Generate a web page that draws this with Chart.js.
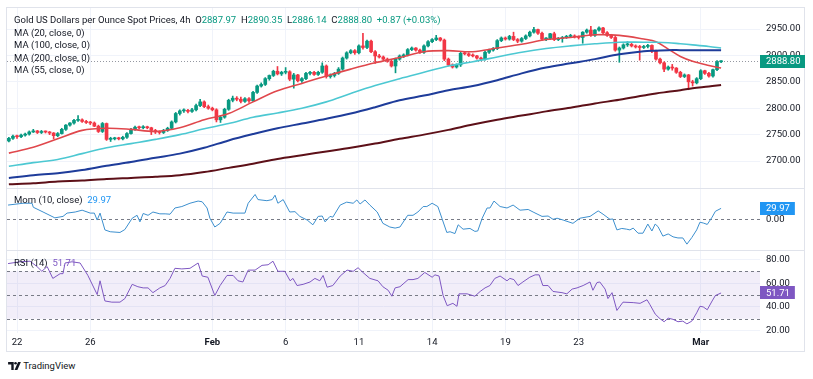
<!DOCTYPE html>
<html><head><meta charset="utf-8">
<script src="https://cdn.jsdelivr.net/npm/chart.js@4.4.1/dist/chart.umd.min.js"></script>
<style>
html,body{margin:0;padding:0;background:#fff;width:813px;height:379px;overflow:hidden;font-family:Roboto,"Noto Sans",sans-serif;}
#frame{position:absolute;left:6px;top:7px;width:799px;height:345px;border:1px solid #e0e3eb;box-sizing:border-box;}
canvas{position:absolute;}
.sep{position:absolute;left:6px;width:799px;height:1px;background:#e0e3eb;}
.lg{position:absolute;left:14px;font-size:9.5px;color:#131722;white-space:pre;line-height:12px;z-index:5;}
#logo{position:absolute;left:8px;top:360px;font-size:9.5px;color:#131722;line-height:11px;}
</style></head><body>
<div id="frame"></div>
<canvas id="cMain" width="798" height="180" style="left:7px;top:8px"></canvas>
<div class="sep" style="top:188px"></div>
<canvas id="cMom" width="798" height="61" style="left:7px;top:189px"></canvas>
<div class="sep" style="top:250px"></div>
<canvas id="cRsi" width="798" height="101" style="left:7px;top:251px"></canvas>
<div class="lg" id="l0" style="top:14px"></div>
<div class="lg" id="l1" style="top:26.6px"></div>
<div class="lg" id="l2" style="top:39.2px"></div>
<div class="lg" id="l3" style="top:51.8px"></div>
<div class="lg" id="l4" style="top:64.4px"></div>
<div class="lg" id="lMom" style="top:194px"></div>
<div class="lg" id="lRsi" style="top:257px"></div>
<div id="logo"><svg width="13" height="8" viewBox="0 0 16 10" style="vertical-align:-1px"><path d="M0 0H7V10H4V3H0Z" fill="#131722"/><circle cx="9.3" cy="1.6" r="1.6" fill="#131722"/><path d="M12.5 0H16L11.6 10H8.1Z" fill="#131722"/></svg> TradingView</div>
<script>
// ---------------- DATA ----------------
const title = "Gold US Dollars per Ounce Spot Prices, 4h";
const FIRST_IDX = -2; // bar index of the first candle (bar 0 = Jan 22)
const opens = [
2738,2743,2747,2746,2749,2751,2755,2757,2754,2756,
2755,2753,2748,2752,2760,2768,2772,2777,2778,2775,
2773,2772,2766,2756,2771,2741,2742,2743,2742,2745,
2752,2760,2764,2763,2764,2763,2758,2755,2754,2758,
2762,2774,2790,2795,2796,2794,2797,2805,2812,2803,
2800,2797,2778,2783,2798,2815,2819,2817,2813,2818,
2814,2830,2842,2845,2856,2862,2870,2865,2868,2869,
2855,2863,2852,2856,2866,2868,2864,2868,2880,2860,
2862,2866,2874,2895,2905,2909,2905,2918,2915,2927,
2907,2899,2897,2893,2889,2880,2893,2899,2901,2911,
2914,2910,2906,2918,2926,2930,2933,2929,2893,2882,
2878,2882,2904,2903,2900,2899,2895,2893,2906,2910,
2913,2928,2933,2931,2936,2930,2927,2932,2937,2944,
2949,2942,2931,2932,2941,2930,2932,2934,2936,2937,
2935,2934,2944,2948,2938,2948,2952,2943,2938,2934,
2910,2914,2920,2921,2918,2916,2915,2917,2919,2908,
2893,2886,2874,2878,2876,2868,2860,2863,2850,2848,
2856,2871,2866,2861,2873,2887.97];
const highs = [
2745,2749,2749,2751,2753,2757,2760,2758,2758,2757,
2756,2754,2754,2762,2769,2773,2779,2786,2780,2777,
2775,2774,2768,2773,2772,2745,2745,2745,2747,2754,
2762,2766,2766,2767,2766,2764,2760,2757,2760,2764,
2776,2792,2797,2799,2798,2800,2808,2817,2814,2806,
2802,2799,2786,2800,2817,2823,2822,2821,2820,2820,
2832,2844,2848,2858,2863,2872,2879,2870,2877,2871,
2866,2864,2858,2868,2870,2870,2870,2886,2882,2865,
2868,2877,2897,2907,2911,2911,2920,2942,2929,2929,
2909,2902,2899,2895,2891,2895,2901,2903,2913,2916,
2915,2912,2920,2928,2932,2938,2934,2931,2895,2884,
2884,2906,2907,2905,2903,2900,2897,2908,2912,2915,
2930,2935,2935,2938,2944,2932,2934,2939,2946,2953,
2950,2944,2934,2942,2944,2934,2936,2938,2940,2939,
2937,2945,2950,2955,2949,2954,2953,2945,2940,2936,
2916,2922,2926,2923,2920,2919,2919,2921,2920,2910,
2895,2888,2880,2883,2877,2870,2865,2864,2853,2858,
2873,2872,2868,2874,2890,2890.35];
const lows = [
2736,2741,2743,2744,2747,2749,2754,2752,2752,2753,
2750,2742,2746,2751,2758,2766,2770,2775,2773,2771,
2769,2765,2754,2754,2739,2737,2740,2740,2740,2743,
2751,2758,2761,2761,2761,2750,2752,2751,2752,2756,
2760,2772,2787,2792,2791,2792,2795,2803,2801,2798,
2795,2774,2773,2781,2796,2812,2814,2810,2811,2811,
2813,2828,2840,2843,2853,2860,2863,2862,2865,2852,
2838,2850,2849,2854,2863,2862,2862,2866,2857,2857,
2859,2864,2872,2893,2903,2902,2903,2912,2913,2905,
2885,2895,2891,2887,2878,2867,2891,2896,2899,2909,
2908,2904,2904,2916,2924,2928,2927,2890,2880,2876,
2876,2879,2901,2898,2897,2893,2890,2891,2904,2908,
2911,2926,2929,2929,2928,2924,2925,2930,2935,2942,
2940,2929,2928,2930,2928,2928,2925,2932,2934,2933,
2931,2923,2942,2936,2936,2946,2941,2936,2932,2908,
2887,2912,2917,2916,2914,2891,2913,2914,2905,2891,
2884,2869,2872,2872,2866,2858,2858,2835,2842,2846,
2854,2864,2859,2859,2871,2886.14];
const closes = [
2743,2747,2746,2749,2751,2755,2757,2754,2756,2755,
2753,2748,2752,2760,2768,2772,2777,2778,2775,2773,
2772,2766,2756,2771,2741,2742,2743,2742,2745,2752,
2760,2764,2763,2764,2763,2758,2755,2754,2758,2762,
2774,2790,2795,2796,2794,2797,2805,2812,2803,2800,
2797,2778,2783,2798,2815,2819,2817,2813,2818,2814,
2830,2842,2845,2856,2862,2870,2865,2868,2869,2855,
2863,2852,2856,2866,2868,2864,2868,2880,2860,2862,
2866,2874,2895,2905,2909,2905,2918,2915,2927,2907,
2899,2897,2893,2889,2880,2893,2899,2901,2911,2914,
2910,2906,2918,2926,2930,2933,2929,2893,2882,2878,
2882,2904,2903,2900,2899,2895,2893,2906,2910,2913,
2928,2933,2931,2936,2930,2927,2932,2937,2944,2949,
2942,2931,2932,2941,2930,2932,2934,2936,2937,2935,
2934,2944,2948,2938,2948,2952,2943,2938,2934,2910,
2914,2920,2921,2918,2916,2915,2917,2919,2908,2893,
2886,2874,2878,2876,2868,2860,2863,2850,2848,2856,
2871,2866,2861,2873,2887.93,2888.80];

// moving averages, sampled at these bar indices
const maIdx = [-2,4,10,16,22,28,34,40,46,52,58,64,70,76,82,88,94,100,106,112,118,124,130,136,142,148,154,157,160,163,166,170,173];
const ma20  = [2715,2726,2742,2758,2762,2760,2756,2763,2778,2790,2812,2833,2847,2861,2874,2886,2896,2907,2909,2907,2914,2921,2930,2934,2939,2938,2931,2926,2912,2898,2889,2881,2876];
const ma55  = [2690,2697,2703,2714,2725,2733,2741,2750,2761,2771,2783,2791,2800,2812,2828,2843,2856,2868,2880,2888,2897,2906,2913,2918,2922,2925,2925,2925,2924,2922,2920,2917,2914];
const ma100 = [2668,2673,2677,2683,2691,2698,2706,2714,2725,2739,2751,2762,2771,2780,2790,2802,2815,2824,2834,2842,2853,2866,2877,2885,2893,2902,2908,2909,2910,2910,2910,2910,2910];
const ma200 = [2656,2658,2661,2663,2666,2668,2670,2673,2679,2687,2695,2704,2711,2718,2725,2733,2742,2750,2759,2769,2778,2786,2794,2801,2809,2816,2824,2828,2831,2834,2838,2841,2844];

// momentum (10)
const momIdx = [-2.2,1.5,3.7,4,6.4,9.3,11.3,12.3,14.3,16,18,19,19.7,20.4,21.6,22.9,25.3,26.5,28.3,29.5,30.2,31,32.2,33.4,35.1,36.4,37.6,38.8,40.5,42.5,44.5,45.5,46.7,47.4,48.6,49.9,51.6,53.1,54.8,56,56.8,58.5,59.2,61.4,62.7,63.4,64.1,65.4,67,68.3,69.5,71.3,72.7,74,75,75.7,76.9,77.6,79.4,81,82.6,83.5,84.3,85.5,86.7,88.5,89.9,91.6,92.9,94.1,96,97.3,98.5,99.8,100.7,102,103.4,104.4,105.6,106.4,107.6,108.4,109.6,111.3,112.5,113.2,114.3,115.5,116.2,117.2,118.7,120.4,121.9,123.6,125.6,126.8,129,130.5,131.7,132.7,134.2,136.6,138.3,140.8,142.8,144,145.7,146.4,147.4,148.6,149.8,150.6,151.4,152.6,153.8,155,156,156.8,157.5,158.7,160,161.2,162.4,163.6,164.6,165.8,167,167.8,168.6,169.6,170.8,171.6,173];
const mom = [39,44,44,33,20,4,8,17,20,25,17,17,-2,17,-29,-34,-36,-28,3,11,-7,16,11,20,15,15,14,31,35,44,50,48,31,3,-21,-11,20,17,17,17,44,68,54,51,54,66,44,54,20,21,8,-2,-15,8,9,-7,8,6,39,47,44,53,42,53,39,20,-11,-21,-24,-21,11,11,20,35,35,44,35,3,-36,-34,-39,-15,-27,-25,-33,-32,3,31,31,50,35,31,39,25,27,20,8,9,0,3,-2,-11,3,8,23,14,0,1,-29,-25,-27,-29,-24,-38,-38,-13,-32,-13,-20,-46,-40,-48,-51,-51,-68,-50,-29,-8,-10,-14,6,22,29.97];

// RSI (14)
const rsiIdx = [-2.2,0.7,3.2,4.9,6.1,7.4,8.8,10.6,11.3,11.8,13.5,15.5,17.4,19.7,20.4,21.6,23.3,25.3,26.5,28.3,29.7,31,32.2,33.4,35.1,36.4,37.6,38.8,40.5,42.5,44.5,45.5,46.9,48.6,49.9,51.6,53.1,54.3,55.5,56.8,58.5,60.2,61.7,62.9,64.1,65.8,67.1,67.8,68.8,70.3,72,73.2,74.4,75.2,76.2,77.6,79.4,81.1,82.6,83.8,85,86.7,88.7,89.9,91.2,92.1,92.9,94.1,96.1,97.3,98.5,100.2,102,102.7,103.7,104.7,105.7,107.1,108.1,108.6,110.6,112.5,113.8,115,116.2,117.4,118.7,120.4,121.1,122.1,123.1,124.3,126,127.3,128.3,129.2,130.5,131.7,133.9,135.1,136.4,137.6,139.1,140.8,141.5,142.5,143.2,144.5,145.2,146.2,147.4,148.9,151.4,153.1,154.8,155.5,156.8,158,159,160,161.2,162.4,163.6,164.6,165.8,167,167.8,168.6,169.6,170.8,171.6,173];
const rsi = [76.5,78,78.5,74,70,74,64,68,68,77,78,77,66.6,50.4,62,45,44,44,47,59,57,56,56,52,56,58,64,72.5,72,72.5,77,66,65,49.6,58,66.5,66.5,62,61,71,71,75,75.5,78.5,70,70,62,64,58,59,61,64,62,66.5,56.6,58,66,71,70,73,69,64,62,57,54,49,56,57,63,63,64,69,65,67,66,49.6,41,43,40.5,51,51,49,53,56,58,64,66,62,64,63,58,61,65,67,67,58,58,53,52,51,55,56,58,61,54,60.5,61,55,47,52,37,44,43.6,43,46,42,34,30,27.5,30.5,29.5,27.5,28,25.7,28,35,40.5,40,37.6,45,49.6,51.71];

// axis ticks
const dateTickIdx = [0,18,48,66,84,102,120,138,168];
const dateTickLbl = ["22","26","Feb","6","11","14","19","23","Mar"];
const dateTickBold = [false,false,true,false,false,false,false,false,true];
const priceTicks = [2700,2750,2800,2850,2900,2950];
const momTicks = [0];
const rsiTicks = [20,40,60,80];
const rsiLevels = [70,50,30];

// ---------------- STYLE / LAYOUT ----------------
const UP = '#089981', DOWN = '#f23645';
const X_MIN = -2.46, X_MAX = 182.56;
const FONT = 'Roboto, "Noto Sans", sans-serif';
Chart.defaults.font.family = FONT;
Chart.defaults.font.size = 9.5;
Chart.defaults.color = '#131722';

const extras = {
  id: 'extras',
  beforeDatasetsDraw(chart, args, o) {
    const {ctx, chartArea: a} = chart; const y = chart.scales.y;
    if (o.band) {
      const y1 = y.getPixelForValue(o.band[1]), y2 = y.getPixelForValue(o.band[0]);
      ctx.save(); ctx.fillStyle = o.band[2]; ctx.fillRect(a.left, y1, a.right - a.left, y2 - y1); ctx.restore();
    }
    (o.hlines || []).forEach(h => {
      const py = Math.round(y.getPixelForValue(h.v)) + 0.5;
      ctx.save(); ctx.strokeStyle = h.color; ctx.lineWidth = 1; ctx.setLineDash(h.dash);
      ctx.beginPath(); ctx.moveTo(a.left, py); ctx.lineTo(a.right, py); ctx.stroke(); ctx.restore();
    });
  },
  afterDraw(chart, args, o) {
    if (!o.badge) return;
    const {ctx, chartArea: a} = chart; const y = chart.scales.y;
    const py = y.getPixelForValue(o.badge.v);
    ctx.save(); ctx.font = '9.5px ' + FONT;
    const w = ctx.measureText(o.badge.text).width + 11;
    ctx.fillStyle = o.badge.bg; ctx.fillRect(a.right, Math.round(py - 6.5), w, 13);
    ctx.fillStyle = '#fff'; ctx.textBaseline = 'middle'; ctx.textAlign = 'left';
    ctx.fillText(o.badge.text, a.right + 6, py + 0.5); ctx.restore();
  }
};
Chart.register(extras);

function xScale(show) {
  return {
    type: 'linear', min: X_MIN, max: X_MAX, offset: false,
    afterBuildTicks: s => { s.ticks = dateTickIdx.map(v => ({value: v})); },
    ticks: {display: show, autoSkip: false, maxRotation: 0, padding: 4, color: '#131722',
      font: c => ({family: FONT, size: 9.5, weight: dateTickBold[c.index] ? 'bold' : 'normal'}),
      callback: (v, i) => dateTickLbl[i]},
    grid: {color: '#f0f3fa', drawTicks: false, offset: false},
    border: {display: false},
    afterFit: s => { s.paddingLeft = 0; s.paddingRight = 0; s.height = show ? 19 : 0; }
  };
}
function yScale(min, max, tk, grid) {
  return {
    position: 'right', min: min, max: max,
    afterBuildTicks: s => { s.ticks = tk.map(v => ({value: v})); },
    ticks: {padding: 6, color: '#131722', font: {family: FONT, size: 9.5}, callback: v => Number(v).toFixed(2)},
    grid: {color: '#f0f3fa', drawTicks: false, display: grid},
    border: {display: false},
    afterFit: s => { s.width = 45; s.paddingTop = 0; s.paddingBottom = 0; }
  };
}
const baseOpts = {responsive: false, devicePixelRatio: 1, animation: false, layout: {padding: 0}};
const lineDs = (xs, ys, color, w, t) => ({type: 'line', data: xs.map((x, k) => ({x: x, y: ys[k]})),
  borderColor: color, borderWidth: w, pointRadius: 0, tension: t, fill: false});

const N = closes.length, last = N - 1;
const candleCol = c => closes[c.dataIndex] >= opens[c.dataIndex] ? UP : DOWN;

new Chart(document.getElementById('cMain'), {
  type: 'bar',
  data: {datasets: [
    Object.assign(lineDs(maIdx, ma200, '#5d1018', 2, 0.35), {order: 1}),
    Object.assign(lineDs(maIdx, ma100, '#1e3c9a', 2, 0.35), {order: 1}),
    Object.assign(lineDs(maIdx, ma55, '#4cc8d2', 1.6, 0.35), {order: 1}),
    Object.assign(lineDs(maIdx, ma20, '#e0474c', 1.6, 0.35), {order: 1}),
    {type: 'bar', order: 3, grouped: false, barThickness: 1, backgroundColor: candleCol,
      data: lows.map((l, k) => ({x: k + FIRST_IDX, y: [l, highs[k]]}))},
    {type: 'bar', order: 2, grouped: false, barThickness: 3, minBarLength: 1, backgroundColor: candleCol,
      data: opens.map((o, k) => ({x: k + FIRST_IDX, y: [o, closes[k]]}))}
  ]},
  options: Object.assign({}, baseOpts, {
    plugins: {legend: {display: false}, tooltip: {enabled: false},
      extras: {hlines: [{v: closes[last], color: '#9598a1', dash: [1, 2]}],
        badge: {v: closes[last], bg: UP, text: closes[last].toFixed(2)}}},
    scales: {x: xScale(false), y: yScale(2648.9, 2989.8, priceTicks, true)}
  })
});

new Chart(document.getElementById('cMom'), {
  type: 'line',
  data: {datasets: [lineDs(momIdx, mom, '#3c8fce', 1, 0)]},
  options: Object.assign({}, baseOpts, {
    plugins: {legend: {display: false}, tooltip: {enabled: false},
      extras: {hlines: [{v: 0, color: '#787b86', dash: [3, 3]}],
        badge: {v: mom[mom.length - 1], bg: '#2196f3', text: mom[mom.length - 1].toFixed(2)}}},
    scales: {x: xScale(false), y: yScale(-84, 83, momTicks, false)}
  })
});

new Chart(document.getElementById('cRsi'), {
  type: 'line',
  data: {datasets: [lineDs(rsiIdx, rsi, '#7e57c2', 1, 0)]},
  options: Object.assign({}, baseOpts, {
    plugins: {legend: {display: false}, tooltip: {enabled: false},
      extras: {band: [30, 70, 'rgba(126,87,194,0.1)'],
        hlines: rsiLevels.map(v => ({v: v, color: '#787b86', dash: [3, 3]})),
        badge: {v: rsi[rsi.length - 1], bg: '#7e57c2', text: rsi[rsi.length - 1].toFixed(2)}}},
    scales: {x: xScale(true), y: yScale(18, 87.1, rsiTicks, true)}
  })
});

// legends
const g = s => '<span style="color:#089981">' + s + '</span>';
const chg = closes[last] - closes[last - 1];
document.getElementById('l0').innerHTML = title + '  O' + g(opens[last].toFixed(2)) + '  H' + g(highs[last].toFixed(2)) +
  '  L' + g(lows[last].toFixed(2)) + '  C' + g(closes[last].toFixed(2)) + '  ' +
  g((chg >= 0 ? '+' : '') + chg.toFixed(2) + ' (' + (chg >= 0 ? '+' : '') + (chg / closes[last - 1] * 100).toFixed(2) + '%)');
document.getElementById('l1').textContent = 'MA (20, close, 0)';
document.getElementById('l2').textContent = 'MA (100, close, 0)';
document.getElementById('l3').textContent = 'MA (200, close, 0)';
document.getElementById('l4').textContent = 'MA (55, close, 0)';
document.getElementById('lMom').innerHTML = 'Mom (10, close)  <span style="color:#2196f3">' + mom[mom.length - 1].toFixed(2) + '</span>';
document.getElementById('lRsi').innerHTML = 'RSI (14)  <span style="color:#7e57c2">' + rsi[rsi.length - 1].toFixed(2) + '</span>';
</script>
</body></html>
